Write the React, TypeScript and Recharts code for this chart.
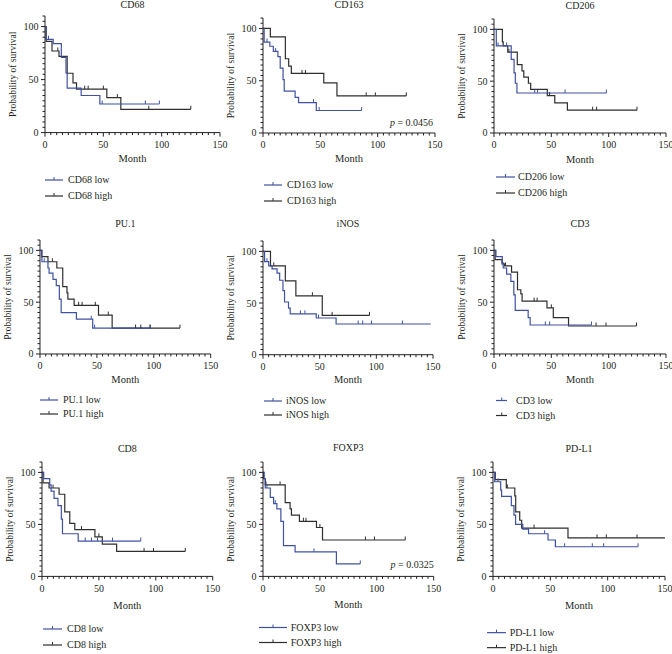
import React from 'react';
import { LineChart, Line, XAxis, YAxis, Legend } from 'recharts';

type Step = [number, number];

// ---------------- data ----------------
const panelTitles = ['CD68', 'CD163', 'CD206', 'PU.1', 'iNOS', 'CD3', 'CD8', 'FOXP3', 'PD-L1'];

const xTickValues = [0, 5, 10, 15, 20, 25, 30, 35, 40, 45, 50, 55, 60, 65, 70, 75, 80, 85, 90, 95, 100, 105, 110, 115, 120, 125, 130, 135, 140, 145, 150];
const xTickLabels = [0, 50, 100, 150];
const yTickValues = [0, 5, 10, 15, 20, 25, 30, 35, 40, 45, 50, 55, 60, 65, 70, 75, 80, 85, 90, 95, 100, 105, 110];
const yTickLabels = [0, 50, 100];

// CD68
const cd68LowSteps: Step[] = [[0, 100], [1, 88], [7, 84], [14, 71], [18, 56], [19, 42], [31, 35], [47, 27]];
const cd68LowCensor = [3, 49, 86, 98];
const cd68HighSteps: Step[] = [[0, 100], [1, 86], [6, 77], [12, 72], [19, 56], [24, 47], [27, 41], [53, 33], [65, 22]];
const cd68HighCensor = [11, 34, 37, 50, 62, 89, 125];

// CD163
const cd163LowSteps: Step[] = [[0, 100], [1, 87], [6, 83], [9, 78], [13, 73], [15, 62], [17.5, 51], [18.5, 40], [28, 34], [31, 29], [46.5, 21.5]];
const cd163LowCensor = [3.5, 11, 44, 49, 86];
const cd163HighSteps: Step[] = [[0, 100], [6.4, 92], [19.5, 71], [22.4, 64], [24.7, 57], [53, 48], [64.5, 35.5]];
const cd163HighCensor = [34, 37, 90, 98, 125];

// CD206
const cd206LowSteps: Step[] = [[0, 100], [2, 84], [15, 71], [17.5, 58], [18.6, 48], [20, 38.6]];
const cd206LowCensor = [3.5, 11, 35.5, 38, 62, 98];
const cd206HighSteps: Step[] = [[0, 100], [7.3, 88], [8, 84], [12, 78], [20.3, 66], [24.4, 60], [26, 54], [30, 48], [32, 42], [46.5, 36], [53, 29], [64, 22]];
const cd206HighCensor = [13, 48.5, 86, 89.5, 124.7];

// PU.1
const pu1LowSteps: Step[] = [[0, 100], [1.7, 89], [7, 83], [8, 78], [11.4, 72], [14.3, 66], [17, 53], [18.6, 40], [32, 33.6], [46.3, 25]];
const pu1LowCensor = [3.7, 45, 48, 97];
const pu1HighSteps: Step[] = [[0, 100], [1.5, 94], [7, 89], [14.8, 83], [20, 65], [23.7, 59], [24.5, 53], [30, 47], [51.4, 37.6], [63.4, 25]];
const pu1HighCensor = [10.9, 34, 37, 48.6, 60, 84, 88.6, 96.6, 123];

// iNOS
const inosLowSteps: Step[] = [[0, 100], [1.4, 90], [5, 86], [8, 83], [12.4, 79], [14.7, 72], [17.6, 62], [19, 51], [22.5, 45], [24, 39.5], [47, 35.5], [64.5, 29.7]];
const inosLowCensor = [3.5, 33, 37, 49, 84, 88, 95.7, 123];
const inosLowEnd = 148;
const inosHighSteps: Step[] = [[0, 100], [6.6, 86], [19.7, 71.5], [29, 57], [52.3, 38]];
const inosHighCensor = [9.5, 43.6, 61, 94];

// CD3
const cd3LowSteps: Step[] = [[0, 100], [1.7, 94], [7.2, 88], [8, 83], [11, 77], [14.7, 70], [17.3, 57], [18.5, 42], [29.8, 35], [31.5, 28]];
const cd3LowCensor = [44.8, 48.5, 85];
const cd3HighSteps: Step[] = [[0, 100], [1, 91], [7, 87], [9, 85], [15.3, 79], [20.5, 62], [23.4, 58], [24.5, 51], [46.2, 44.5], [51.7, 35], [65, 27]];
const cd3HighCensor = [10, 35, 37.6, 50, 89, 97.7, 124.3];

// CD8
const cd8LowSteps: Step[] = [[0, 100], [1.5, 94], [6.8, 88], [8, 82], [10.6, 75], [14, 68], [17, 55], [18, 41], [31.8, 34]];
const cd8LowCensor = [38, 43.5, 48.8, 62, 86.8];
const cd8HighSteps: Step[] = [[0, 100], [0.9, 90], [6.2, 85], [15, 79], [20, 62], [24.4, 51], [28.8, 45], [46.5, 38], [53, 31], [65.6, 24]];
const cd8HighCensor = [9.7, 34.7, 50, 89.7, 98, 125.9];

// FOXP3
const foxp3LowSteps: Step[] = [[0, 100], [1, 94], [2, 85], [6.4, 76], [9.3, 70], [12.2, 65], [15.7, 53], [18, 29.5], [28.2, 23.6], [64.5, 12]];
const foxp3LowCensor = [3.5, 10.8, 44.8, 85.5];
const foxp3HighSteps: Step[] = [[0, 100], [0.6, 94], [2, 88], [19.5, 71], [23.8, 65], [25, 59], [32, 53], [47, 47], [52.3, 35]];
const foxp3HighCensor = [2.6, 15, 35.5, 37.8, 50, 90, 98, 125];

// PD-L1
const pdl1LowSteps: Step[] = [[0, 100], [1.5, 91], [6.7, 83], [7.5, 77], [16, 68], [18.3, 59], [19.7, 50], [26, 45.5], [31, 41], [48, 35], [54.4, 28.5]];
const pdl1LowCensor = [4.4, 45, 62.5, 86.6, 96.5, 126.5];
const pdl1HighSteps: Step[] = [[0, 100], [2, 93], [11.6, 85], [19, 77.5], [19.8, 62], [23.3, 54], [25, 46.5], [65.4, 37]];
const pdl1HighCensor = [12.5, 35.8, 90.7, 98.8, 125.6];
const pdl1HighEnd = 150;

const pValueCD163 = '0.0456';
const pValueFOXP3 = '0.0325';

// ---------------- style ----------------
const FONT = '"Liberation Serif", "DejaVu Serif", serif';
const TEXT = '#231f20';
const AXIS = '#231f20';
const BLUE = '#3f51a2';
const BLACK = '#2e2e2e';

type Pt = { t: number; s: number; c: boolean };

function buildCurve(steps: Step[], censor: number[], end?: number): Pt[] {
  const at = (x: number) => {
    let v = steps[0][1];
    for (const [t, s] of steps) if (t <= x) v = s;
    return v;
  };
  const pts: Pt[] = steps.map(([t, s]) => ({ t, s, c: false }));
  censor.forEach((t) => pts.push({ t, s: at(t), c: true }));
  if (end !== undefined) pts.push({ t: end, s: at(end), c: false });
  pts.sort((a, b) => a.t - b.t);
  return pts;
}

type Layout = {
  plotX: number; plotTop: number; plotW: number; plotH: number;
  titleY: number; monthY: number;
  legX: number; legLen: number; legText: number; legY1: number; legY2: number;
  p?: { x: number; y: number; value: string };
};

const layouts: Layout[] = [
  { plotX: 45, plotTop: 16.4, plotW: 175, plotH: 116.6, titleY: 5, monthY: 159, legX: 45, legLen: 18, legText: 68, legY1: 180, legY2: 196 },
  { plotX: 263, plotTop: 18.2, plotW: 172, plotH: 115, titleY: 4.5, monthY: 159, legX: 264, legLen: 18, legText: 287, legY1: 185, legY2: 201, p: { x: 433, y: 122.7, value: pValueCD163 } },
  { plotX: 494, plotTop: 18.6, plotW: 172, plotH: 114, titleY: 5, monthY: 159, legX: 496, legLen: 19, legText: 518, legY1: 177, legY2: 193 },
  { plotX: 40, plotTop: 240, plotW: 170.7, plotH: 114, titleY: 224, monthY: 379.7, legX: 40, legLen: 18, legText: 63, legY1: 400, legY2: 414 },
  { plotX: 263, plotTop: 241, plotW: 170, plotH: 113.7, titleY: 224, monthY: 379.7, legX: 264, legLen: 18, legText: 286, legY1: 400.7, legY2: 414.7 },
  { plotX: 493.7, plotTop: 240, plotW: 172, plotH: 114, titleY: 224, monthY: 379.7, legX: 495.7, legLen: 11.5, legText: 516, legY1: 400.7, legY2: 415.7 },
  { plotX: 42.3, plotTop: 461.6, plotW: 170.7, plotH: 114.4, titleY: 447.7, monthY: 605, legX: 43, legLen: 19, legText: 67, legY1: 628.7, legY2: 644.7 },
  { plotX: 263.3, plotTop: 462.3, plotW: 170.7, plotH: 114.4, titleY: 447.7, monthY: 605, legX: 259, legLen: 28, legText: 290.7, legY1: 627.7, legY2: 642.7, p: { x: 434, y: 564, value: pValueFOXP3 } },
  { plotX: 493, plotTop: 461.6, plotW: 172, plotH: 114.4, titleY: 447.7, monthY: 605, legX: 487, legLen: 19, legText: 509.7, legY1: 632.7, legY2: 648 },
];

const curves: { low: Pt[]; high: Pt[] }[] = [
  { low: buildCurve(cd68LowSteps, cd68LowCensor), high: buildCurve(cd68HighSteps, cd68HighCensor) },
  { low: buildCurve(cd163LowSteps, cd163LowCensor), high: buildCurve(cd163HighSteps, cd163HighCensor) },
  { low: buildCurve(cd206LowSteps, cd206LowCensor), high: buildCurve(cd206HighSteps, cd206HighCensor) },
  { low: buildCurve(pu1LowSteps, pu1LowCensor), high: buildCurve(pu1HighSteps, pu1HighCensor) },
  { low: buildCurve(inosLowSteps, inosLowCensor, inosLowEnd), high: buildCurve(inosHighSteps, inosHighCensor) },
  { low: buildCurve(cd3LowSteps, cd3LowCensor), high: buildCurve(cd3HighSteps, cd3HighCensor) },
  { low: buildCurve(cd8LowSteps, cd8LowCensor), high: buildCurve(cd8HighSteps, cd8HighCensor) },
  { low: buildCurve(foxp3LowSteps, foxp3LowCensor), high: buildCurve(foxp3HighSteps, foxp3HighCensor) },
  { low: buildCurve(pdl1LowSteps, pdl1LowCensor), high: buildCurve(pdl1HighSteps, pdl1HighCensor, pdl1HighEnd) },
];

const XTick = (props: any) => {
  const { x, y, payload } = props;
  const major = xTickLabels.includes(payload.value);
  return (
    <g>
      <line x1={x} x2={x} y1={y} y2={y + (major ? 4 : 2.5)} stroke={AXIS} strokeWidth={1} />
      {major && (
        <text x={x} y={y + 15.5} textAnchor="middle" fontSize={10} fontFamily={FONT} fill={TEXT}>
          {payload.value}
        </text>
      )}
    </g>
  );
};

const YTick = (props: any) => {
  const { x, y, payload } = props;
  const major = yTickLabels.includes(payload.value);
  return (
    <g>
      <line x1={x - (major ? 4 : 2.5)} x2={x} y1={y} y2={y} stroke={AXIS} strokeWidth={1} />
      {major && (
        <text x={x - 6.5} y={y + 3.5} textAnchor="end" fontSize={10} fontFamily={FONT} fill={TEXT}>
          {payload.value}
        </text>
      )}
    </g>
  );
};

const censorDot = (color: string) => (p: any) => {
  if (!p.payload || !p.payload.c) return <g key={`n-${p.index}`} />;
  return (
    <line key={`c-${p.index}`} x1={p.cx} x2={p.cx} y1={p.cy - 3.5} y2={p.cy} stroke={color} strokeWidth={1} />
  );
};

const ML = 44;
const MT = 24;
const MR = 12;

const Panel = ({ idx }: { idx: number }) => {
  const L = layouts[idx];
  const title = panelTitles[idx];
  const { low, high } = curves[idx];
  const chartLeft = L.plotX - ML;
  const chartTop = L.plotTop - MT;
  const width = ML + L.plotW + MR;
  const height = L.legY2 + 10 - chartTop;
  const xAxisH = height - MT - L.plotH;
  const rowGap = L.legY2 - L.legY1;
  const cx = ML + L.plotW / 2;

  const legendRows = [
    { label: `${title} low`, color: BLUE },
    { label: `${title} high`, color: BLACK },
  ];

  return (
    <div style={{ position: 'absolute', left: chartLeft, top: chartTop, width, height }}>
      <LineChart width={width} height={height} margin={{ top: MT, right: MR, bottom: 0, left: 0 }}>
        <XAxis
          dataKey="t"
          type="number"
          domain={[0, 150]}
          ticks={xTickValues}
          interval={0}
          tickSize={0}
          tickMargin={0}
          tickLine={false}
          axisLine={{ stroke: AXIS, strokeWidth: 1 }}
          tick={XTick}
          height={xAxisH}
          allowDataOverflow
          label={(lp: any) => (
            <g>
              <text x={cx} y={L.monthY - chartTop} textAnchor="middle" dominantBaseline="central" fontSize={10.5} fontFamily={FONT} fill={TEXT}>
                Month
              </text>
              {L.p && (
                <text x={L.p.x - chartLeft} y={L.p.y - chartTop} textAnchor="end" dominantBaseline="central" fontSize={10} fontFamily={FONT} fill={TEXT}>
                  <tspan fontStyle="italic">p</tspan>
                  <tspan> = {L.p.value}</tspan>
                </text>
              )}
            </g>
          )}
        />
        <YAxis
          type="number"
          domain={[0, 110]}
          ticks={yTickValues}
          interval={0}
          tickSize={0}
          tickMargin={0}
          tickLine={false}
          axisLine={{ stroke: AXIS, strokeWidth: 1 }}
          tick={YTick}
          width={ML}
          allowDataOverflow
          label={(lp: any) => (
            <g>
              <text
                x={ML - 32}
                y={MT + L.plotH / 2}
                transform={`rotate(-90 ${ML - 32} ${MT + L.plotH / 2})`}
                textAnchor="middle"
                dominantBaseline="central"
                fontSize={9.5}
                fontFamily={FONT}
                fill={TEXT}
              >
                Probability of survival
              </text>
              <text x={cx} y={L.titleY - chartTop} textAnchor="middle" dominantBaseline="central" fontSize={10} fontFamily={FONT} fill={TEXT}>
                {title}
              </text>
            </g>
          )}
        />
        <Line
          data={high}
          dataKey="s"
          type="stepAfter"
          stroke={BLACK}
          strokeWidth={1.2}
          isAnimationActive={false}
          activeDot={false}
          dot={censorDot(BLACK)}
        />
        <Line
          data={low}
          dataKey="s"
          type="stepAfter"
          stroke={BLUE}
          strokeWidth={1.2}
          isAnimationActive={false}
          activeDot={false}
          dot={censorDot(BLUE)}
        />
        <Legend
          layout="horizontal"
          verticalAlign="middle"
          align="center"
          wrapperStyle={{ left: L.legX - chartLeft, top: L.legY1 - rowGap / 2 - chartTop, width: 200, height: rowGap * 2 }}
          content={() => (
            <div style={{ position: 'relative', width: 200, height: rowGap * 2 }}>
              {legendRows.map((r, i) => (
                <div
                  key={i}
                  style={{ position: 'absolute', left: 0, top: i * rowGap, height: rowGap, display: 'flex', alignItems: 'center', whiteSpace: 'nowrap' }}
                >
                  <svg width={L.legLen} height={rowGap} style={{ display: 'block' }}>
                    <line x1={0} x2={L.legLen} y1={rowGap / 2} y2={rowGap / 2} stroke={r.color} strokeWidth={1.2} />
                    <line x1={L.legLen / 2} x2={L.legLen / 2} y1={rowGap / 2 - 3} y2={rowGap / 2} stroke={r.color} strokeWidth={1} />
                  </svg>
                  <span style={{ marginLeft: L.legText - L.legX - L.legLen, fontSize: 10, fontFamily: FONT, color: TEXT, lineHeight: `${rowGap}px` }}>
                    {r.label}
                  </span>
                </div>
              ))}
            </div>
          )}
        />
      </LineChart>
    </div>
  );
};

export default function App() {
  return (
    <div style={{ position: 'absolute', left: 0, top: 0, width: 672, height: 654, overflow: 'hidden', background: '#fff' }}>
      {panelTitles.map((_, i) => (
        <Panel key={i} idx={i} />
      ))}
    </div>
  );
}
